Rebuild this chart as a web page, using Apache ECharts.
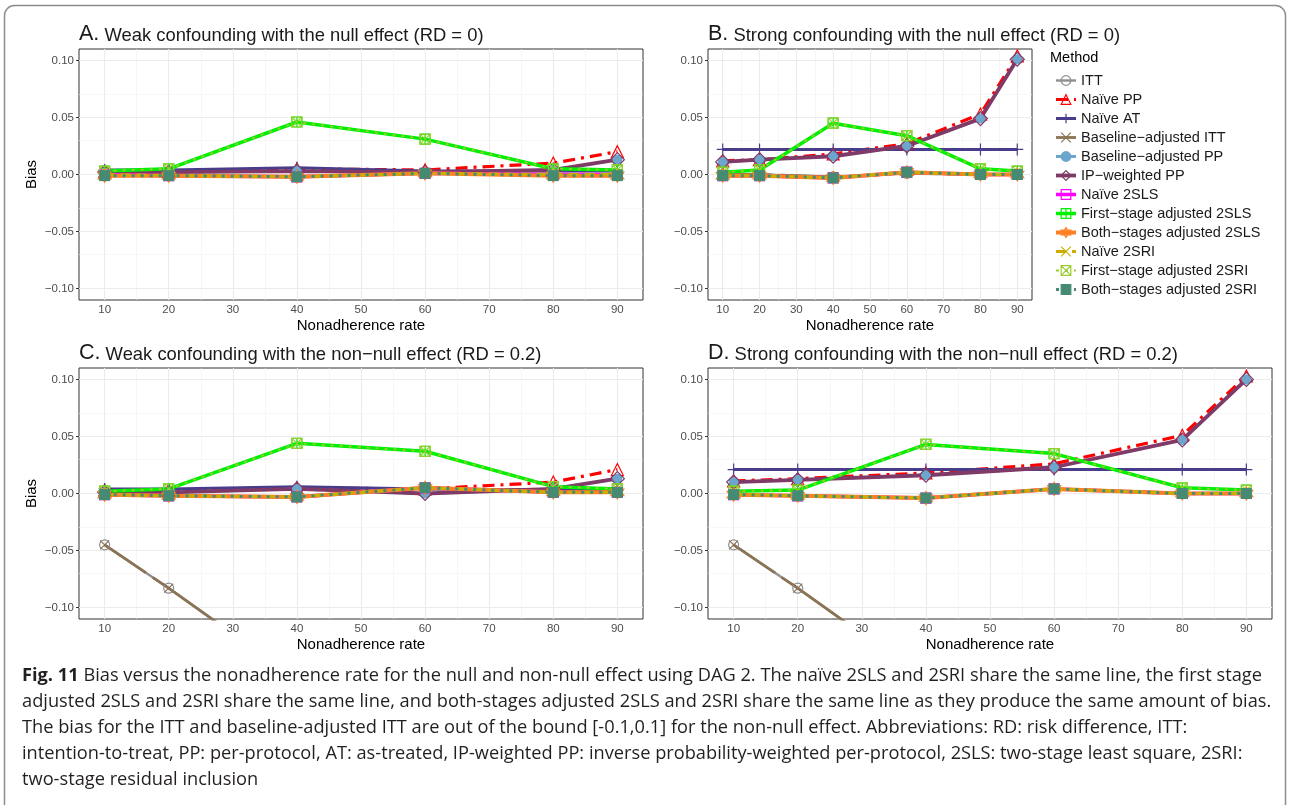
<!DOCTYPE html>
<html>
<head>
<meta charset="utf-8">
<script src="https://cdn.jsdelivr.net/npm/echarts@6/dist/echarts.min.js"></script>
<style>
  html, body { margin: 0; padding: 0; background: #ffffff; }
  #chart { width: 1289px; height: 805px; }
</style>
</head>
<body>
<div id="chart"></div>
<script>
// ---------------------------------------------------------------
// Data: bias by nonadherence rate (%), DAG 2
// ---------------------------------------------------------------
const rates = [10, 20, 40, 60, 80, 90];

const methods = [
  'ITT', 'Naïve PP', 'Naïve AT', 'Baseline−adjusted ITT', 'Baseline−adjusted PP',
  'IP−weighted PP', 'Naïve 2SLS', 'First−stage adjusted 2SLS', 'Both−stages adjusted 2SLS',
  'Naïve 2SRI', 'First−stage adjusted 2SRI', 'Both−stages adjusted 2SRI'
];

const xTicks = [10, 20, 30, 40, 50, 60, 70, 80, 90];
const yTicks = [-0.10, -0.05, 0.00, 0.05, 0.10];

// A. Weak confounding, null effect (RD = 0)
const A_itt       = [0.000, -0.001, -0.002, 0.001, 0.000, 0.000];
const A_naivePP   = [0.003, 0.003, 0.005, 0.004, 0.010, 0.020];
const A_naiveAT   = [0.004, 0.004, 0.006, 0.003, 0.003, 0.003];
const A_baseITT   = [0.000, -0.001, -0.002, 0.001, 0.000, 0.000];
const A_basePP    = [0.002, 0.002, 0.003, 0.002, 0.004, 0.013];
const A_ipwPP     = [0.002, 0.002, 0.003, 0.002, 0.004, 0.013];
const A_naive2SLS = [0.000, -0.001, -0.002, 0.001, 0.000, 0.000];
const A_first2SLS = [0.003, 0.005, 0.046, 0.031, 0.005, 0.004];
const A_both2SLS  = [-0.001, -0.001, -0.002, 0.001, -0.001, -0.001];

// B. Strong confounding, null effect (RD = 0)
const B_itt       = [0.000, 0.000, -0.002, 0.001, 0.000, 0.000];
const B_naivePP   = [0.012, 0.013, 0.018, 0.027, 0.053, 0.104];
const B_naiveAT   = [0.022, 0.022, 0.022, 0.022, 0.022, 0.022];
const B_baseITT   = [0.000, 0.000, -0.002, 0.001, 0.000, 0.000];
const B_basePP    = [0.011, 0.013, 0.016, 0.025, 0.049, 0.101];
const B_ipwPP     = [0.011, 0.013, 0.016, 0.025, 0.049, 0.101];
const B_naive2SLS = [-0.001, -0.001, -0.003, 0.002, 0.000, 0.000];
const B_first2SLS = [0.002, 0.004, 0.045, 0.034, 0.005, 0.003];
const B_both2SLS  = [-0.001, -0.001, -0.003, 0.002, 0.000, 0.000];

// C. Weak confounding, non-null effect (RD = 0.2)
const C_itt       = [-0.045, -0.083, -0.163, -0.240, -0.318, -0.356];
const C_naivePP   = [0.003, 0.003, 0.005, 0.004, 0.010, 0.021];
const C_naiveAT   = [0.004, 0.004, 0.006, 0.004, 0.003, 0.003];
const C_baseITT   = [-0.045, -0.083, -0.163, -0.240, -0.318, -0.356];
const C_basePP    = [0.001, 0.001, 0.004, 0.000, 0.004, 0.013];
const C_ipwPP     = [0.001, 0.001, 0.004, 0.000, 0.004, 0.013];
const C_naive2SLS = [-0.001, -0.002, -0.003, 0.005, 0.001, 0.001];
const C_first2SLS = [0.002, 0.004, 0.044, 0.037, 0.006, 0.004];
const C_both2SLS  = [-0.001, -0.002, -0.003, 0.005, 0.001, 0.001];

// D. Strong confounding, non-null effect (RD = 0.2)
const D_itt       = [-0.045, -0.083, -0.163, -0.240, -0.318, -0.356];
const D_naivePP   = [0.011, 0.013, 0.018, 0.026, 0.051, 0.103];
const D_naiveAT   = [0.021, 0.021, 0.021, 0.021, 0.021, 0.021];
const D_baseITT   = [-0.045, -0.083, -0.163, -0.240, -0.318, -0.356];
const D_basePP    = [0.010, 0.012, 0.016, 0.023, 0.047, 0.100];
const D_ipwPP     = [0.010, 0.012, 0.016, 0.023, 0.047, 0.100];
const D_naive2SLS = [-0.001, -0.002, -0.004, 0.004, 0.000, 0.000];
const D_first2SLS = [0.002, 0.003, 0.043, 0.035, 0.005, 0.003];
const D_both2SLS  = [-0.001, -0.002, -0.004, 0.004, 0.000, 0.000];

// The 2SRI estimators give the same bias as their 2SLS counterparts.
const panelValues = [
  [A_itt, A_naivePP, A_naiveAT, A_baseITT, A_basePP, A_ipwPP, A_naive2SLS, A_first2SLS, A_both2SLS, A_naive2SLS, A_first2SLS, A_both2SLS],
  [B_itt, B_naivePP, B_naiveAT, B_baseITT, B_basePP, B_ipwPP, B_naive2SLS, B_first2SLS, B_both2SLS, B_naive2SLS, B_first2SLS, B_both2SLS],
  [C_itt, C_naivePP, C_naiveAT, C_baseITT, C_basePP, C_ipwPP, C_naive2SLS, C_first2SLS, C_both2SLS, C_naive2SLS, C_first2SLS, C_both2SLS],
  [D_itt, D_naivePP, D_naiveAT, D_baseITT, D_basePP, D_ipwPP, D_naive2SLS, D_first2SLS, D_both2SLS, D_naive2SLS, D_first2SLS, D_both2SLS]
];

const panelTitles = [
  ['A.', 'Weak confounding with the null effect (RD = 0)'],
  ['B.', 'Strong confounding with the null effect (RD = 0)'],
  ['C.', 'Weak confounding with the non−null effect (RD = 0.2)'],
  ['D.', 'Strong confounding with the non−null effect (RD = 0.2)']
];

const captionLines = [
  ['Fig. 11', ' Bias versus the nonadherence rate for the null and non-null effect using DAG 2. The naïve 2SLS and 2SRI share the same line, the first stage'],
  ['', 'adjusted 2SLS and 2SRI share the same line, and both-stages adjusted 2SLS and 2SRI share the same line as they produce the same amount of bias.'],
  ['', 'The bias for the ITT and baseline-adjusted ITT are out of the bound [-0.1,0.1] for the non-null effect. Abbreviations: RD: risk difference, ITT:'],
  ['', 'intention-to-treat, PP: per-protocol, AT: as-treated, IP-weighted PP: inverse probability-weighted per-protocol, 2SLS: two-stage least square, 2SRI:'],
  ['', 'two-stage residual inclusion']
];

// ---------------------------------------------------------------
// Styling
// ---------------------------------------------------------------
const FONT = '"Liberation Sans", Arial, Helvetica, sans-serif';
const CAP_FONT = '"Open Sans", "Noto Sans", sans-serif';

const SYM_PLUS = 'path://M5 0V10M0 5H10';
const SYM_CROSS = 'path://M0 0L10 10M10 0L0 10';
const SYM_SQ_PLUS = 'path://M0 0H10V10H0ZM0 5H10M5 0V10';
const SYM_STAR = 'path://M5 0L9.33 7.5H0.67ZM5 10L0.67 2.5H9.33Z';
const SYM_SQ_CROSS = 'path://M0 0H10V10H0ZM0 0L10 10M10 0L0 10';

const methodStyle = [
  { c: '#8F8F8F', w: 2.4, dash: 'solid',          sym: 'circle',     size: 10, fill: false },
  { c: '#FF0000', w: 3.2, dash: [12, 6, 3, 6],    sym: 'triangle',   size: 12, fill: false },
  { c: '#483D8B', w: 3.0, dash: 'solid',          sym: SYM_PLUS,     size: 12, fill: false },
  { c: '#8B7355', w: 2.8, dash: [50, 8, 100, 8],  sym: SYM_CROSS,    size: 9,  fill: false },
  { c: '#6CA6CD', w: 2.8, dash: [8, 5],           sym: 'circle',     size: 10, fill: true  },
  { c: '#7F3A67', w: 3.8, dash: 'solid',          sym: 'diamond',    size: 14, fill: false },
  { c: '#FF00FF', w: 3.5, dash: 'solid',          sym: 'rect',       size: 10, fill: false },
  { c: '#00F000', w: 3.5, dash: 'solid',          sym: SYM_SQ_PLUS,  size: 10, fill: false },
  { c: '#FF7F24', w: 4.0, dash: 'solid',          sym: SYM_STAR,     size: 13, fill: false },
  { c: '#CDAD00', w: 3.0, dash: [10, 6],          sym: SYM_CROSS,    size: 9,  fill: false },
  { c: '#9ACD32', w: 1.8, dash: [3, 6],           sym: SYM_SQ_CROSS, size: 10, fill: false },
  { c: '#458B74', w: 3.0, dash: [3, 6],           sym: 'rect',       size: 11, fill: true  }
];

const grids = [
  { left: 79,  top: 49,  width: 564, height: 251 },
  { left: 708, top: 49,  width: 324, height: 251 },
  { left: 79,  top: 368, width: 564, height: 251 },
  { left: 708, top: 368, width: 564, height: 251 }
];

const fmtY = v => (v < 0 ? '−' : '') + Math.abs(v).toFixed(2);

const xAxes = grids.map((g, i) => ({
  type: 'value', gridIndex: i, min: 6, max: 94,
  axisLine: { show: false },
  axisTick: { show: true, customValues: xTicks, length: 3, lineStyle: { color: '#333333', width: 1 } },
  axisLabel: { customValues: xTicks, margin: 4, color: '#4D4D4D', fontFamily: FONT, fontSize: 11.5 },
  splitLine: { show: false }
}));

const yAxes = grids.map((g, i) => ({
  type: 'value', gridIndex: i, min: -0.11, max: 0.11,
  axisLine: { show: false },
  axisTick: { show: true, customValues: yTicks, length: 3, lineStyle: { color: '#333333', width: 1 } },
  axisLabel: { customValues: yTicks, margin: 5, color: '#4D4D4D', fontFamily: FONT, fontSize: 11.5, formatter: fmtY },
  splitLine: { show: false }
}));

// Background grid lines (major + minor) drawn on data coordinates
const xMajor = [10, 20, 30, 40, 50, 60, 70, 80, 90];
const xMinor = [15, 25, 35, 45, 55, 65, 75, 85];
const yMajor = [-0.10, -0.05, 0.00, 0.05, 0.10];
const yMinor = [-0.075, -0.025, 0.025, 0.075];

const series = [];
grids.forEach((g, i) => {
  const major = { color: '#EBEBEB', width: 1.1, type: 'solid' };
  const minor = { color: '#F2F2F2', width: 0.6, type: 'solid' };
  series.push({
    type: 'line', xAxisIndex: i, yAxisIndex: i, data: [], silent: true, z: 1,
    markLine: {
      silent: true, symbol: 'none', animation: false, z: 1, label: { show: false },
      data: [
        ...xMinor.map(v => ({ xAxis: v, lineStyle: minor })),
        ...yMinor.map(v => ({ yAxis: v, lineStyle: minor })),
        ...xMajor.map(v => ({ xAxis: v, lineStyle: major })),
        ...yMajor.map(v => ({ yAxis: v, lineStyle: major }))
      ]
    }
  });
});

// Lines first (all panels), then markers on top
grids.forEach((g, i) => {
  methods.forEach((name, m) => {
    const s = methodStyle[m];
    series.push({
      type: 'line', name, xAxisIndex: i, yAxisIndex: i, z: 2,
      data: rates.map((r, k) => [r, panelValues[i][m][k]]),
      showSymbol: false, symbol: s.sym, symbolSize: s.size,
      itemStyle: { color: s.fill ? s.c : 'rgba(0,0,0,0)', borderColor: s.c, borderWidth: s.fill ? 0 : 1.2 },
      lineStyle: { color: s.c, width: s.w, type: s.dash, cap: 'butt' },
      emphasis: { disabled: true }, silent: true, clip: true
    });
  });
});
grids.forEach((g, i) => {
  methods.forEach((name, m) => {
    const s = methodStyle[m];
    series.push({
      type: 'scatter', name, xAxisIndex: i, yAxisIndex: i, z: 3,
      data: rates.map((r, k) => [r, panelValues[i][m][k]]),
      symbol: s.sym, symbolSize: s.size,
      itemStyle: { color: s.fill ? s.c : 'rgba(0,0,0,0)', borderColor: s.c, borderWidth: s.fill ? 0 : 1.2, opacity: 1 },
      emphasis: { disabled: true }, silent: true, clip: true
    });
  });
});

// ---------------------------------------------------------------
// Text elements
// ---------------------------------------------------------------
const titleAnchors = [[79, 33], [708, 33], [79, 352], [708, 352]];
const graphics = [];

graphics.push({
  type: 'rect', silent: true, z: 0,
  shape: { x: 4.5, y: 5.5, width: 1281, height: 830, r: 10 },
  style: { fill: 'none', stroke: '#8C8C8C', lineWidth: 1.5 }
});

panelTitles.forEach((t, i) => {
  graphics.push({
    type: 'text', x: titleAnchors[i][0], y: titleAnchors[i][1], silent: true,
    style: {
      text: '{p|' + t[0] + '}{t| ' + t[1] + '}',
      align: 'left', verticalAlign: 'middle', fill: '#1A1A1A',
      rich: {
        p: { fontFamily: FONT, fontSize: 21.5, fill: '#1A1A1A', verticalAlign: 'bottom', lineHeight: 24 },
        t: { fontFamily: FONT, fontSize: 18.4, fill: '#1A1A1A', verticalAlign: 'bottom', lineHeight: 22 }
      }
    }
  });
});

// Axis titles
grids.forEach((g, i) => {
  graphics.push({
    type: 'text', x: g.left + g.width / 2, y: g.top + g.height + 25.5, silent: true,
    style: { text: 'Nonadherence rate', fontFamily: FONT, fontSize: 15, fill: '#000000', align: 'center', verticalAlign: 'middle' }
  });
});
[0, 2].forEach(i => {
  const g = grids[i];
  graphics.push({
    type: 'text', x: 32, y: g.top + g.height / 2, rotation: Math.PI / 2, silent: true,
    style: { text: 'Bias', fontFamily: FONT, fontSize: 15, fill: '#000000', align: 'center', verticalAlign: 'middle' }
  });
});

// Legend title
graphics.push({
  type: 'text', x: 1050, y: 58, silent: true,
  style: { text: 'Method', fontFamily: FONT, fontSize: 14.5, fill: '#000000', align: 'left', verticalAlign: 'middle' }
});

// Caption, scaled to the text block width
const capSize = 18.5;
const mctx = document.createElement('canvas').getContext('2d');
function measure(str, weight) {
  mctx.font = weight + ' ' + capSize + 'px ' + CAP_FONT;
  return mctx.measureText(str).width;
}
const firstLineWidth = measure(captionLines[0][0], 'bold') + measure(captionLines[0][1], 'normal');
const capScale = 1240 / firstLineWidth;
const capY = [676, 702, 728, 754, 780];
captionLines.forEach((ln, i) => {
  const text = (ln[0] ? '{b|' + ln[0] + '}' : '') + ln[1];
  graphics.push({
    type: 'text', x: 22, y: capY[i], scaleX: capScale, silent: true,
    style: {
      text, fontFamily: CAP_FONT, fontSize: capSize, fill: '#231F20',
      align: 'left', verticalAlign: 'middle',
      rich: { b: { fontFamily: CAP_FONT, fontSize: capSize, fontWeight: 'bold', fill: '#231F20' } }
    }
  });
});

// ---------------------------------------------------------------
const chart = echarts.init(document.getElementById('chart'), null, { renderer: 'canvas' });
chart.setOption({
  animation: false,
  backgroundColor: '#ffffff',
  grid: grids.map(g => ({ ...g, show: true, backgroundColor: '#ffffff', borderColor: '#333333', borderWidth: 1, containLabel: false })),
  xAxis: xAxes,
  yAxis: yAxes,
  legend: {
    orient: 'vertical', left: 1049, top: 68,
    itemWidth: 20, itemHeight: 12, itemGap: 4,
    selectedMode: false,
    data: methods,
    textStyle: { fontFamily: FONT, fontSize: 14.5, color: '#1A1A1A', lineHeight: 14 },
    itemStyle: { borderWidth: 1.2 },
    lineStyle: { width: 'inherit' }
  },
  tooltip: { show: false },
  graphic: graphics,
  series
});
</script>
</body>
</html>
